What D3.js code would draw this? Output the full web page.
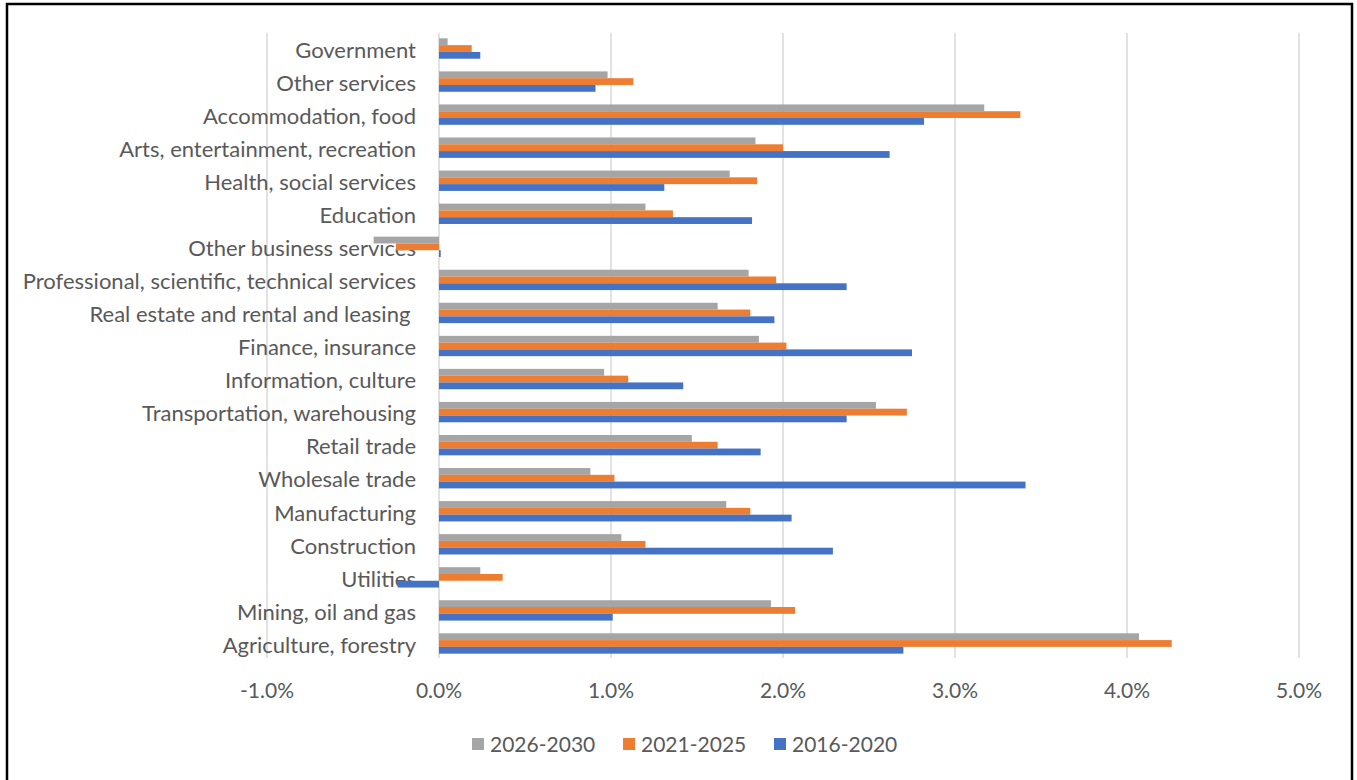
<!DOCTYPE html>
<html>
<head>
<meta charset="utf-8">
<script src="https://cdn.jsdelivr.net/npm/d3@7"></script>
<style>
    body { margin: 0; background: #fff; }
    svg text { font-family: Lato, "Open Sans", sans-serif; fill: #595959; white-space: pre; }
</style>
</head>
<body>
<svg id="chart" width="1357" height="780"></svg>
<script>
// industries, top to bottom as drawn
var categories = [
    "Government",
    "Other services",
    "Accommodation, food",
    "Arts, entertainment, recreation",
    "Health, social services",
    "Education",
    "Other business services",
    "Professional, scientific, technical services",
    "Real estate and rental and leasing ",
    "Finance, insurance",
    "Information, culture",
    "Transportation, warehousing",
    "Retail trade",
    "Wholesale trade",
    "Manufacturing",
    "Construction",
    "Utilities",
    "Mining, oil and gas",
    "Agriculture, forestry"
];

// annual growth, percent
var growth2026 = [0.05, 0.98, 3.17, 1.84, 1.69, 1.20, -0.38, 1.80, 1.62, 1.86, 0.96, 2.54, 1.47, 0.88, 1.67, 1.06, 0.24, 1.93, 4.07];
var growth2021 = [0.19, 1.13, 3.38, 2.00, 1.85, 1.36, -0.25, 1.96, 1.81, 2.02, 1.10, 2.72, 1.62, 1.02, 1.81, 1.20, 0.37, 2.07, 4.26];
var growth2016 = [0.24, 0.91, 2.82, 2.62, 1.31, 1.82, 0.01, 2.37, 1.95, 2.75, 1.42, 2.37, 1.87, 3.41, 2.05, 2.29, -0.24, 1.01, 2.70];

var seriesNames = ["2026-2030", "2021-2025", "2016-2020"];
var seriesColors = ["#A5A5A5", "#ED7D31", "#4472C4"];
var xTicks = [-1, 0, 1, 2, 3, 4, 5];

var series = [growth2026, growth2021, growth2016];

var svg = d3.select("#chart");

// outer frame
svg.append("rect")
    .attr("x", 7).attr("y", 4)
    .attr("width", 1345).attr("height", 800)
    .attr("fill", "none")
    .attr("stroke", "#000")
    .attr("stroke-width", 2.5);

var x = d3.scaleLinear().domain([-1, 5]).range([267, 1299]);

var y = d3.scaleBand()
    .domain(categories)
    .range([32, 660])
    .paddingInner(0.384)
    .paddingOuter(0.192);

var ySub = d3.scaleBand()
    .domain(d3.range(series.length))
    .range([0, y.bandwidth()]);

// gridlines
svg.append("g").selectAll("line")
    .data(xTicks)
    .join("line")
    .attr("x1", d => x(d)).attr("x2", d => x(d))
    .attr("y1", 33).attr("y2", 658)
    .attr("stroke", "#D9D9D9")
    .attr("stroke-width", 1.5);

// tick labels (plain hyphen, like the source)
svg.append("g").selectAll("text")
    .data(xTicks)
    .join("text")
    .attr("x", d => x(d))
    .attr("y", 690)
    .attr("dy", "0.38em")
    .attr("text-anchor", "middle")
    .style("font-size", "21px")
    .text(d => d3.format(".1f")(d).replace("\u2212", "-") + "%");

// category labels (drawn under the bars)
svg.append("g").selectAll("text")
    .data(categories)
    .join("text")
    .attr("x", x(0) - 23)
    .attr("y", d => y(d) + y.bandwidth() / 2)
    .attr("dy", "0.42em")
    .attr("text-anchor", "end")
    .style("font-size", "22px")
    .text(d => d);

// bars
series.forEach(function (values, s) {
    svg.append("g")
        .attr("fill", seriesColors[s])
        .selectAll("rect")
        .data(values)
        .join("rect")
        .attr("x", d => x(Math.min(0, d)))
        .attr("y", (d, i) => y(categories[i]) + ySub(s))
        .attr("width", d => Math.abs(x(d) - x(0)))
        .attr("height", ySub.bandwidth());
});

// legend
var legendX = [472, 623, 774];
var legend = svg.append("g").selectAll("g")
    .data(seriesNames)
    .join("g")
    .attr("transform", (d, i) => "translate(" + legendX[i] + ",744)");

legend.append("rect")
    .attr("x", 0).attr("y", -6)
    .attr("width", 12).attr("height", 12)
    .attr("fill", (d, i) => seriesColors[i]);

legend.append("text")
    .attr("x", 18)
    .attr("dy", "0.38em")
    .style("font-size", "21px")
    .text(d => d);
</script>
</body>
</html>
